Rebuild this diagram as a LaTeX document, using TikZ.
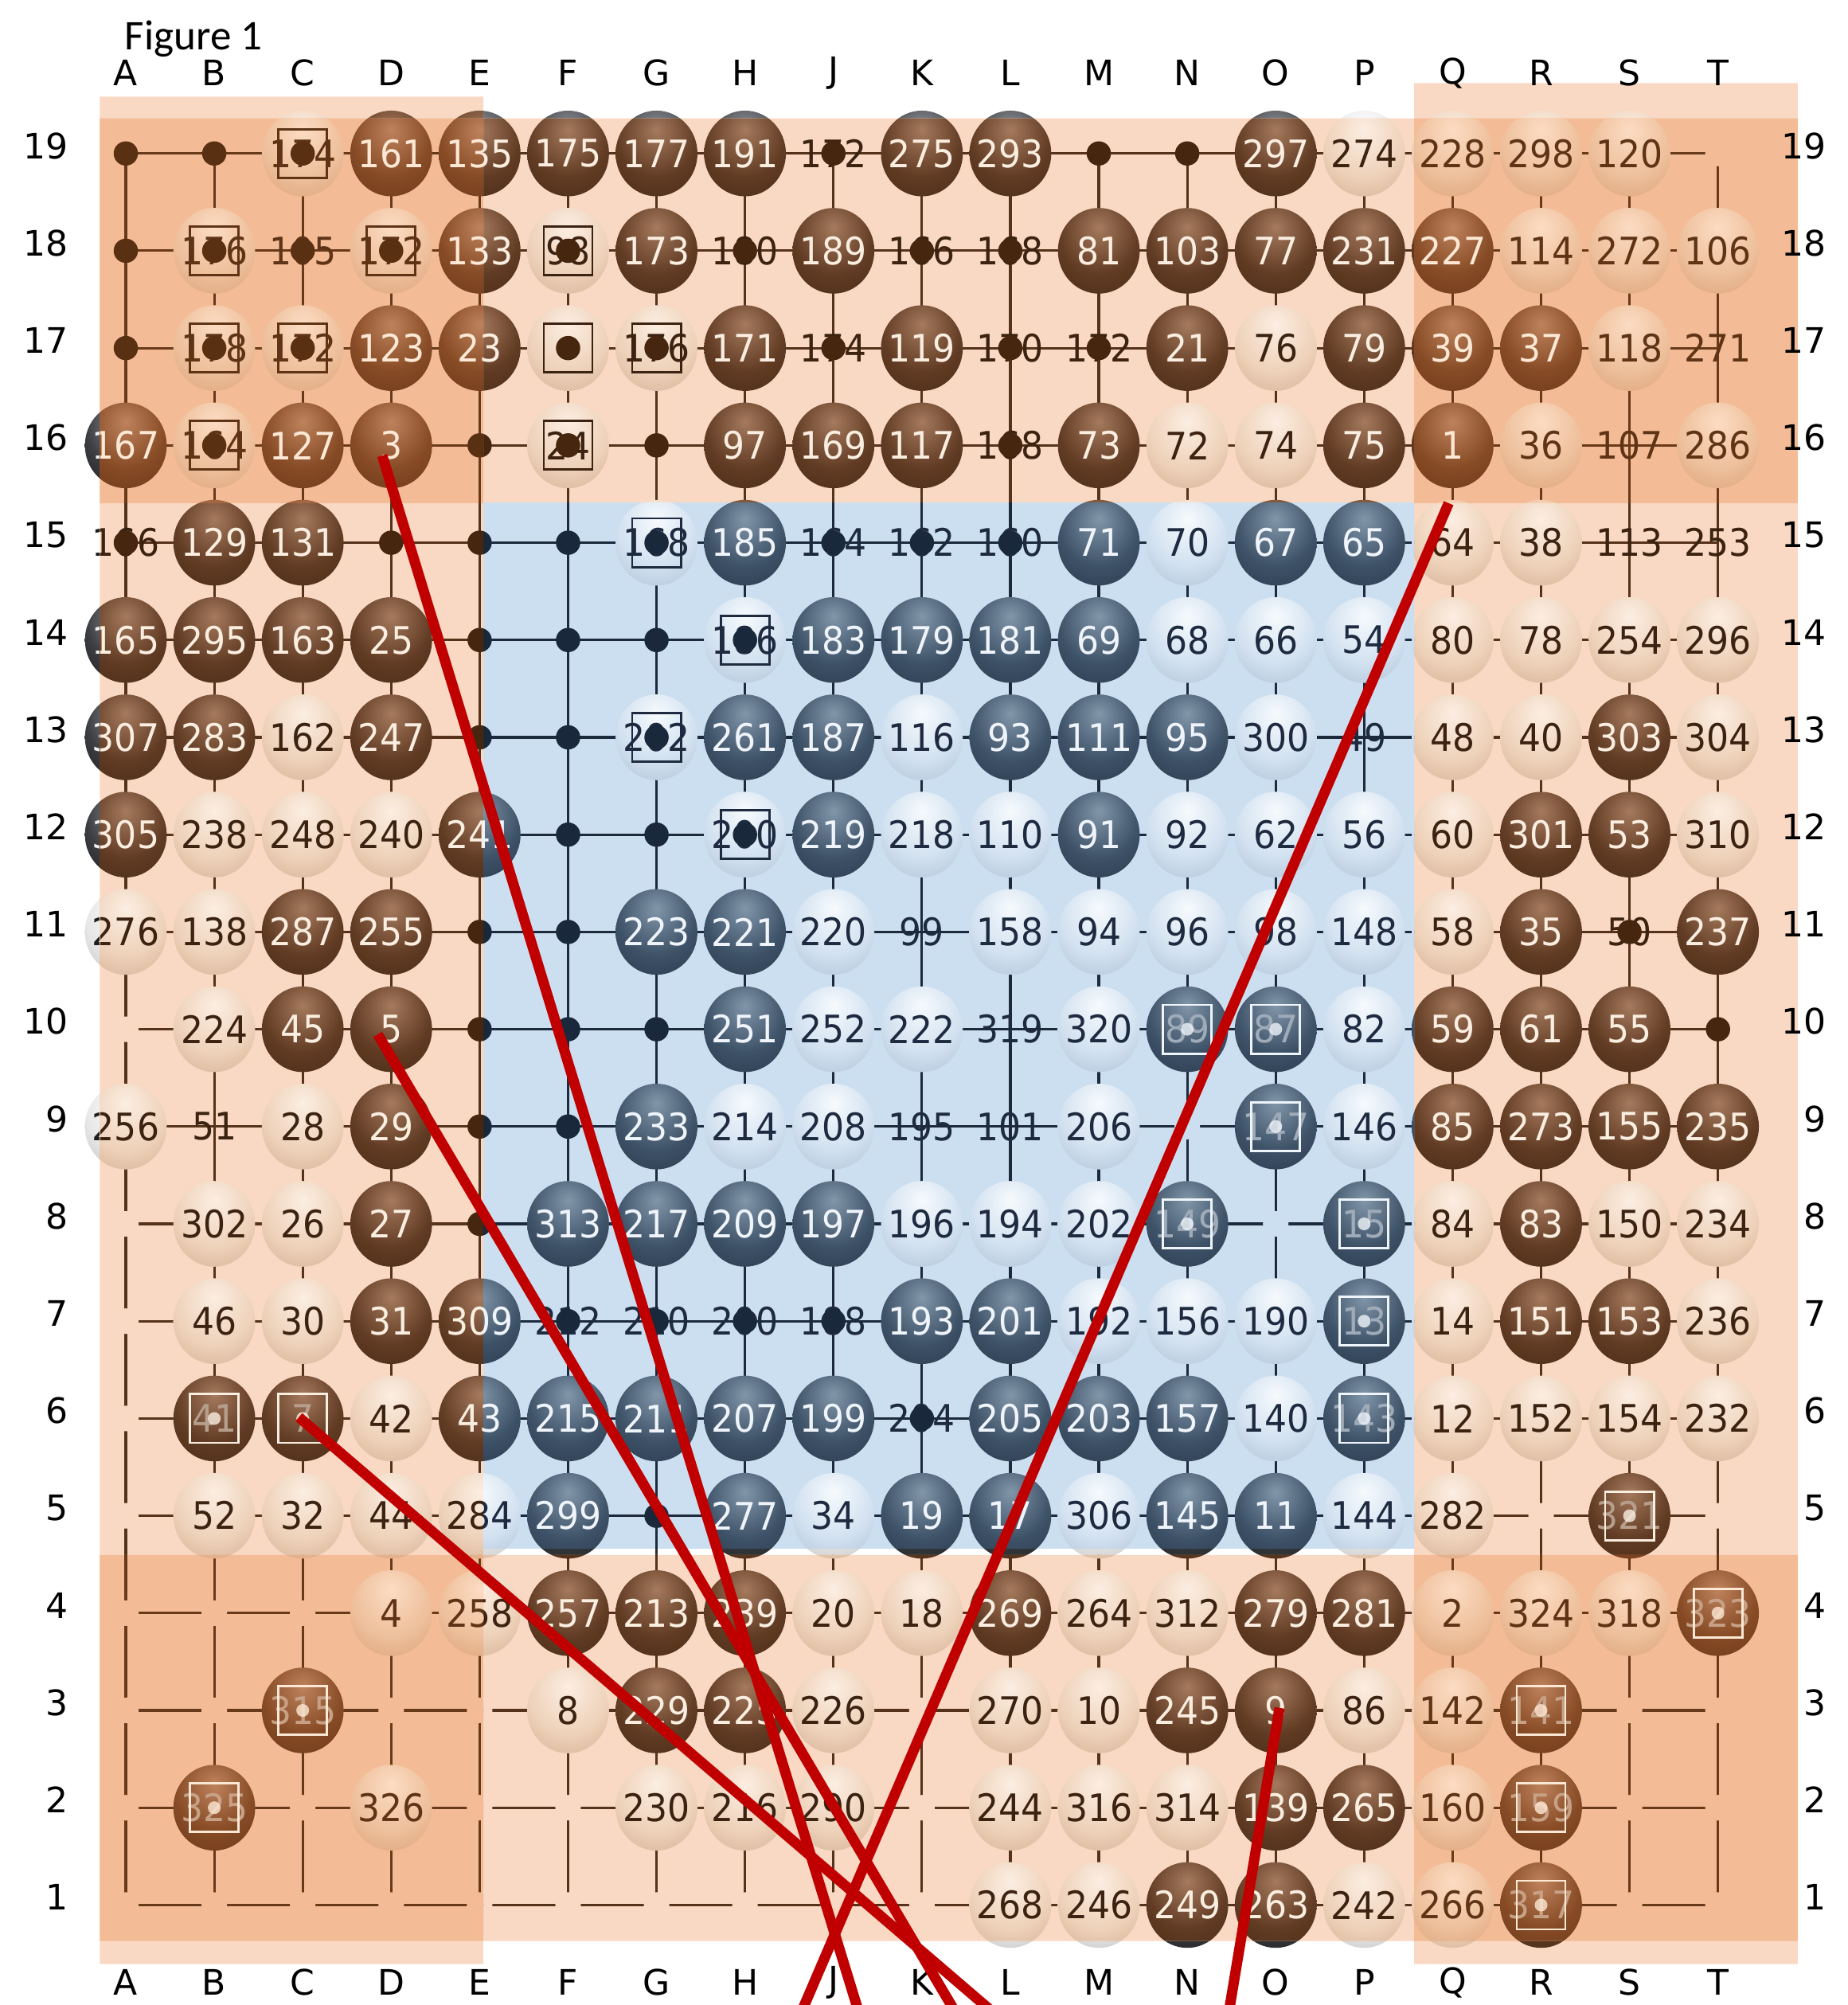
\documentclass[tikz,border=0pt]{standalone}
\usepackage{fontspec}
\usepackage{graphicx}
\usetikzlibrary{calc}
\newfontfamily\numfont{DejaVu Sans}
\newfontfamily\figfont{Carlito}

% colores: tablero sin tinte
\definecolor{neutroFondo}{RGB}{255,255,255}
\definecolor{neutroLinea}{RGB}{45,45,45}
\definecolor{neutroPunto}{RGB}{30,30,30}
\definecolor{neutroNegroA}{RGB}{150,155,160}
\definecolor{neutroNegroB}{RGB}{60,62,66}
\definecolor{neutroNegroC}{RGB}{25,25,28}
\definecolor{neutroBlancoA}{RGB}{255,255,255}
\definecolor{neutroBlancoB}{RGB}{232,232,232}
\definecolor{neutroBlancoC}{RGB}{190,190,190}
\definecolor{neutroNumN}{RGB}{240,240,240}
\definecolor{neutroNumB}{RGB}{30,30,30}
% naranja claro
\definecolor{claroFondo}{RGB}{249,217,196}
\definecolor{claroLinea}{RGB}{85,50,25}
\definecolor{claroPunto}{RGB}{70,38,15}
\definecolor{claroNegroA}{RGB}{165,122,94}
\definecolor{claroNegroB}{RGB}{98,60,36}
\definecolor{claroNegroC}{RGB}{70,40,20}
\definecolor{claroBlancoA}{RGB}{252,238,226}
\definecolor{claroBlancoB}{RGB}{238,210,186}
\definecolor{claroBlancoC}{RGB}{208,170,140}
\definecolor{claroNumN}{RGB}{250,238,225}
\definecolor{claroNumB}{RGB}{60,34,16}
% naranja oscuro (esquinas)
\definecolor{oscuroFondo}{RGB}{243,188,150}
\definecolor{oscuroLinea}{RGB}{105,58,25}
\definecolor{oscuroPunto}{RGB}{90,48,18}
\definecolor{oscuroNegroA}{RGB}{190,130,92}
\definecolor{oscuroNegroB}{RGB}{135,75,38}
\definecolor{oscuroNegroC}{RGB}{105,55,25}
\definecolor{oscuroBlancoA}{RGB}{252,220,195}
\definecolor{oscuroBlancoB}{RGB}{238,192,156}
\definecolor{oscuroBlancoC}{RGB}{214,156,114}
\definecolor{oscuroNumN}{RGB}{252,232,212}
\definecolor{oscuroNumB}{RGB}{95,52,22}
% azul (centro)
\definecolor{azulFondo}{RGB}{204,223,240}
\definecolor{azulLinea}{RGB}{28,42,60}
\definecolor{azulPunto}{RGB}{25,40,58}
\definecolor{azulNegroA}{RGB}{130,150,170}
\definecolor{azulNegroB}{RGB}{62,82,104}
\definecolor{azulNegroC}{RGB}{38,54,72}
\definecolor{azulBlancoA}{RGB}{246,250,253}
\definecolor{azulBlancoB}{RGB}{210,225,240}
\definecolor{azulBlancoC}{RGB}{165,187,210}
\definecolor{azulNumN}{RGB}{238,244,250}
\definecolor{azulNumB}{RGB}{30,42,64}
\definecolor{rojo}{RGB}{192,0,0}

\newcommand{\paleta}[1]{%
  \colorlet{cFondo}{#1Fondo}\colorlet{cLinea}{#1Linea}\colorlet{cPunto}{#1Punto}%
  \colorlet{cNegroA}{#1NegroA}\colorlet{cNegroB}{#1NegroB}\colorlet{cNegroC}{#1NegroC}%
  \colorlet{cBlancoA}{#1BlancoA}\colorlet{cBlancoB}{#1BlancoB}\colorlet{cBlancoC}{#1BlancoC}%
  \colorlet{cNumN}{#1NumN}\colorlet{cNumB}{#1NumB}\colorlet{cNumM}{#1NumN!55!#1NegroB}}

\colorlet{piedraA}{white}\colorlet{piedraB}{gray}\colorlet{piedraC}{black}
\pgfdeclareradialshading[piedraA,piedraB,piedraC]{piedra}{\pgfpoint{0bp}{14bp}}{%
  color(0bp)=(piedraA); color(24bp)=(piedraB); color(46bp)=(piedraC); color(100bp)=(piedraC)}

\newcommand{\numtam}{\numfont\fontsize{7.8}{8}\selectfont}
\newcommand{\alto}[1]{\scalebox{1}[1.08]{#1}}

% todo el tablero con la paleta vigente
\newcommand{\tablero}{%
  % lineas
  \foreach \c in {A,B,C,D,E,F,G,H,J,K,L,M,N,O,P,Q,R,S,T}
    \draw[rejilla] (\c19) -- (\c1);
  \foreach \r in {1,...,19}
    \draw[rejilla] (A\r) -- (T\r);
  % huecos en puntos vacios
  \foreach \p in {T19,A10,N9,A8,O8,A7,A6,A5,R5,T5,A4,B4,C4,A3,B3,D3,E3,K3,S3,T3,
                  A2,C2,E2,F2,K2,S2,T2,A1,B1,C1,D1,E1,F1,G1,H1,J1,K1,S1,T1}
    \fill[cFondo] (\p) circle[radius=10];
  % puntos
  \foreach \p in {A19,B19,M19,N19,A18,A17,E16,G16,D15,E15,F15,E14,F14,G14,E13,F13,
                  F12,G12,E11,F11,E10,F10,G10,T10,E9,F9,E8,G5}
    \fill[cPunto] (\p) circle[radius=9.5];
  % numeros sueltos
  \foreach \p/\n in {T17/271,S16/107,S15/113,T15/253,P13/49,K11/99,L10/319,B9/51,K9/195,L9/101}
    \node[suelto] at (\p) {\alto{\n}};
  \foreach \p/\n in {J19/172,C18/105,H18/180,K18/166,L18/168,J17/174,L17/170,M17/172,L16/168,
                     A15/166,J15/164,K15/162,L15/160,S11/50,F7/212,G7/210,H7/200,J7/188,K6/204}
    {\node[suelto] at (\p) {\alto{\n}}; \fill[cPunto] (\p) circle[radius=9.5];}
  % negras
  \colorlet{piedraA}{cNegroA}\colorlet{piedraB}{cNegroB}\colorlet{piedraC}{cNegroC}%
  \foreach \p/\n in {D19/161,E19/135,F19/175,G19/177,H19/191,K19/275,L19/293,O19/297,
      E18/133,G18/173,J18/189,M18/81,N18/103,O18/77,P18/231,Q18/227,
      D17/123,E17/23,H17/171,K17/119,N17/21,P17/79,Q17/39,R17/37,
      A16/167,C16/127,D16/3,H16/97,J16/169,K16/117,M16/73,P16/75,Q16/1,
      B15/129,C15/131,H15/185,M15/71,O15/67,P15/65,
      A14/165,B14/295,C14/163,D14/25,J14/183,K14/179,L14/181,M14/69,
      A13/307,B13/283,D13/247,H13/261,J13/187,L13/93,M13/111,N13/95,S13/303,
      A12/305,E12/241,J12/219,M12/91,R12/301,S12/53,
      C11/287,D11/255,G11/223,H11/221,R11/35,T11/237,
      C10/45,D10/5,H10/251,Q10/59,R10/61,S10/55,
      D9/29,G9/233,Q9/85,R9/273,S9/155,T9/235,
      D8/27,F8/313,G8/217,H8/209,J8/197,R8/83,
      D7/31,E7/309,K7/193,L7/201,R7/151,S7/153,
      E6/43,F6/215,G6/211,H6/207,J6/199,L6/205,M6/203,N6/157,
      F5/299,H5/277,K5/19,L5/17,N5/145,O5/11,
      F4/257,G4/213,H4/239,L4/269,O4/279,P4/281,
      G3/229,H3/225,N3/245,O3/9,O2/139,P2/265,N1/249,O1/263}
    {\path[bola] (\p) ellipse[x radius=32,y radius=33.5]; \node[num,text=cNumN] at (\p) {\alto{\n}};}
  % negras marcadas
  \foreach \p/\n in {N10/89,O10/87,O9/147,N8/149,P8/15,P7/13,P6/143,B6/41,C6/7,
                     S5/321,T4/323,C3/315,R3/141,B2/325,R2/159,R1/317}
    {\path[bola] (\p) ellipse[x radius=32,y radius=33.5];
     \node[num,text=cNumM] at (\p) {\alto{\n}};
     \node[marca,draw=cNumN] at (\p) {};
     \fill[cNumN,opacity=0.8] (\p) circle[radius=5];}
  % blancas
  \colorlet{piedraA}{cBlancoA}\colorlet{piedraB}{cBlancoB}\colorlet{piedraC}{cBlancoC}%
  \foreach \p/\n in {P19/274,Q19/228,R19/298,S19/120,R18/114,S18/272,T18/106,O17/76,S17/118,
      N16/72,O16/74,R16/36,T16/286,N15/70,Q15/64,R15/38,
      N14/68,O14/66,P14/54,Q14/80,R14/78,S14/254,T14/296,
      C13/162,K13/116,O13/300,Q13/48,R13/40,T13/304,
      B12/238,C12/248,D12/240,K12/218,L12/110,N12/92,O12/62,P12/56,Q12/60,T12/310,
      A11/276,B11/138,J11/220,L11/158,M11/94,N11/96,O11/98,P11/148,Q11/58,
      B10/224,J10/252,K10/222,M10/320,P10/82,
      A9/256,C9/28,H9/214,J9/208,M9/206,P9/146,
      B8/302,C8/26,K8/196,L8/194,M8/202,Q8/84,S8/150,T8/234,
      B7/46,C7/30,M7/192,N7/156,O7/190,Q7/14,T7/236,
      D6/42,O6/140,Q6/12,R6/152,S6/154,T6/232,
      B5/52,C5/32,D5/44,E5/284,J5/34,M5/306,P5/144,Q5/282,
      D4/4,E4/258,J4/20,K4/18,M4/264,N4/312,Q4/2,R4/324,S4/318,
      F3/8,J3/226,L3/270,M3/10,P3/86,Q3/142,
      D2/326,G2/230,H2/216,J2/290,L2/244,M2/316,N2/314,Q2/160,
      L1/268,M1/246,P1/242,Q1/266}
    {\path[bola] (\p) ellipse[x radius=32,y radius=33.5]; \node[num,text=cNumB] at (\p) {\alto{\n}};}
  % blancas marcadas
  \foreach \p/\n in {C19/174,B18/176,D18/172,F18/98,B17/178,C17/172,F17/{},G17/176,
                     B16/164,F16/24,G15/168,H14/186,G13/202,H12/200}
    {\path[bola] (\p) ellipse[x radius=32,y radius=33.5];
     \node[num,text=cNumB] at (\p) {\alto{\n}};
     \node[marca,draw=cNumB] at (\p) {};
     \fill[cPunto] (\p) circle[radius=9.5];}
}

\begin{document}
\begin{tikzpicture}[x=0.01cm, y=-0.01cm,
  rejilla/.style={draw=cLinea, line width=0.55pt},
  bola/.style={shading=piedra},
  num/.style={font=\numtam, inner sep=0pt},
  suelto/.style={num, text=cNumB},
  marca/.style={minimum size=0.38cm, inner sep=0pt, line width=0.5pt},
  letra/.style={font=\numfont\fontsize{7.8}{9}\selectfont, inner sep=0pt},
  fila/.style={font=\numfont\fontsize{7.8}{9}\selectfont, inner sep=0pt, anchor=east},
  roja/.style={draw=rojo, line width=2.3pt}]
\useasboundingbox (0,0) rectangle (1445,1568);

% puntos del tablero
\foreach \c [count=\i from 0] in {A,B,C,D,E,F,G,H,J,K,L,M,N,O,P,Q,R,S,T}
  \foreach \r in {1,...,19}
    \coordinate (\c\r) at ({98.4+69.18*\i},{120+76.1*(19-\r)});

% capa sin tinte
\begin{scope}
\paleta{neutro}
\tablero
\end{scope}

% zonas naranja claro
\begin{scope}
\clip (78,92.6) rectangle (1406,393.5) (78,393.5) rectangle (378,1518)
      (1106,393.5) rectangle (1406,1518) (378,1216) rectangle (1106,1518)
      (78,75.6) rectangle (378,92.6) (1106,65) rectangle (1406,92.6)
      (78,1518) rectangle (378,1536) (1106,1518) rectangle (1406,1536);
\paleta{claro}
\fill[cFondo] (0,0) rectangle (1445,1568);
\tablero
\end{scope}

% esquinas
\begin{scope}
\clip (78,92.6) rectangle (378,393.5) (1106,92.6) rectangle (1406,393.5)
      (78,1216) rectangle (378,1518) (1106,1216) rectangle (1406,1518);
\paleta{oscuro}
\fill[cFondo] (0,0) rectangle (1445,1568);
\tablero
\end{scope}

% centro azul
\begin{scope}
\clip (378,393.5) rectangle (1106,1211);
\paleta{azul}
\fill[cFondo] (0,0) rectangle (1445,1568);
\tablero
\end{scope}

% rotulos
\node[font=\figfont\fontsize{9.4}{11}\selectfont, inner sep=0pt, anchor=base west] (titulo) at (97,39) {Figure 1};
\foreach \c in {A,B,C,D,E,F,G,H,J,K,L,M,N,O,P,Q,R,S,T} {
  \node[letra] at ($(\c19)+(0,-63)$) {\c};
  \node[letra] at ($(\c1)+(0,60.6)$) {\c};
}
\foreach \r in {1,...,19} {
  \node[fila] at ($(A\r)+(-44.4,-6)$) {\r};
  \node[fila] at ($(T\r)+(85.4,-6)$) {\r};
}

% lineas rojas
\coordinate (iniQ16) at (1133,393.5);
\coordinate (finD16) at (673.6,1580);
\coordinate (finD10) at (751,1580);
\coordinate (finC6) at (784,1580);
\coordinate (finQ16) at (624,1580);
\coordinate (finO3) at (960,1580);
\draw[roja] ($(D16)+(-7,8)$) -- (finD16);
\draw[roja] ($(D10)+(-10.5,4)$) -- (finD10);
\draw[roja] ($(C6)+(-3,-1)$) -- (finC6);
\draw[roja] (iniQ16) -- (finQ16);
\draw[roja] ($(O3)+(3,-2)$) -- (finO3);
\end{tikzpicture}
\end{document}
